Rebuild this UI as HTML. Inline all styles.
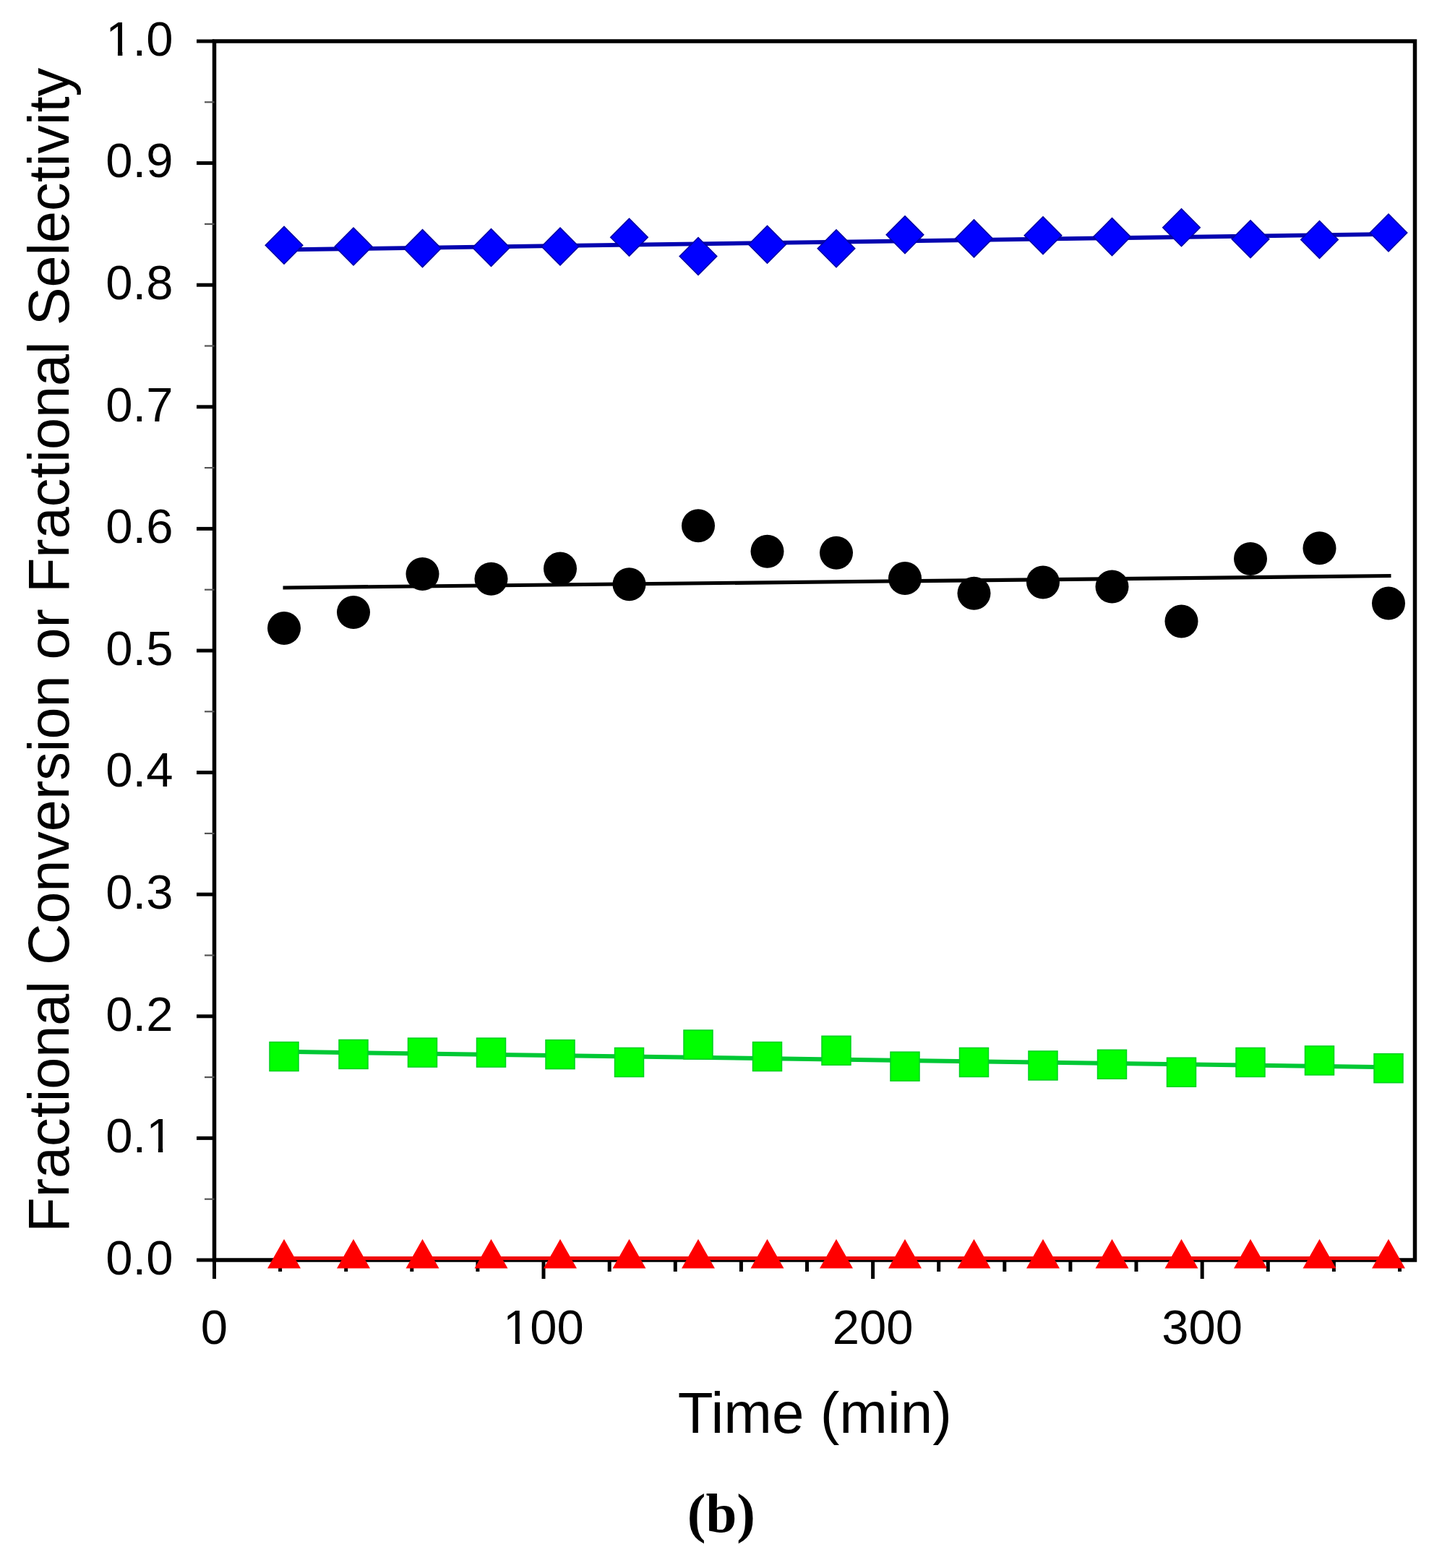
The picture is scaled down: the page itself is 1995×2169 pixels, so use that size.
<!DOCTYPE html><html><head><meta charset="utf-8"><title>Fractional Conversion vs Time</title>
<style>html,body{margin:0;padding:0;background:#fff;}svg{display:block;}text{font-family:"Liberation Sans",Arial,sans-serif;fill:#000;}</style></head><body>
<svg width="1995" height="2169" viewBox="0 0 1995 2169">
<rect width="1995" height="2169" fill="#fff"/>
<rect x="296.5" y="57.0" width="1661.0" height="1686.0" fill="none" stroke="#000" stroke-width="5.5"/>
<line x1="272" y1="1743.0" x2="296.5" y2="1743.0" stroke="#000" stroke-width="5"/>
<line x1="283" y1="1658.7" x2="296.5" y2="1658.7" stroke="#555" stroke-width="2.2"/>
<text x="239.5" y="1762.8" font-size="67" text-anchor="end">0.0</text>
<line x1="272" y1="1574.4" x2="296.5" y2="1574.4" stroke="#000" stroke-width="5"/>
<line x1="283" y1="1490.1" x2="296.5" y2="1490.1" stroke="#555" stroke-width="2.2"/>
<text x="239.5" y="1594.2" font-size="67" text-anchor="end">0.1</text>
<line x1="272" y1="1405.8" x2="296.5" y2="1405.8" stroke="#000" stroke-width="5"/>
<line x1="283" y1="1321.5" x2="296.5" y2="1321.5" stroke="#555" stroke-width="2.2"/>
<text x="239.5" y="1425.6" font-size="67" text-anchor="end">0.2</text>
<line x1="272" y1="1237.2" x2="296.5" y2="1237.2" stroke="#000" stroke-width="5"/>
<line x1="283" y1="1152.9" x2="296.5" y2="1152.9" stroke="#555" stroke-width="2.2"/>
<text x="239.5" y="1257.0" font-size="67" text-anchor="end">0.3</text>
<line x1="272" y1="1068.6" x2="296.5" y2="1068.6" stroke="#000" stroke-width="5"/>
<line x1="283" y1="984.3" x2="296.5" y2="984.3" stroke="#555" stroke-width="2.2"/>
<text x="239.5" y="1088.4" font-size="67" text-anchor="end">0.4</text>
<line x1="272" y1="900.0" x2="296.5" y2="900.0" stroke="#000" stroke-width="5"/>
<line x1="283" y1="815.7" x2="296.5" y2="815.7" stroke="#555" stroke-width="2.2"/>
<text x="239.5" y="919.8" font-size="67" text-anchor="end">0.5</text>
<line x1="272" y1="731.4" x2="296.5" y2="731.4" stroke="#000" stroke-width="5"/>
<line x1="283" y1="647.1" x2="296.5" y2="647.1" stroke="#555" stroke-width="2.2"/>
<text x="239.5" y="751.2" font-size="67" text-anchor="end">0.6</text>
<line x1="272" y1="562.8" x2="296.5" y2="562.8" stroke="#000" stroke-width="5"/>
<line x1="283" y1="478.5" x2="296.5" y2="478.5" stroke="#555" stroke-width="2.2"/>
<text x="239.5" y="582.6" font-size="67" text-anchor="end">0.7</text>
<line x1="272" y1="394.2" x2="296.5" y2="394.2" stroke="#000" stroke-width="5"/>
<line x1="283" y1="309.9" x2="296.5" y2="309.9" stroke="#555" stroke-width="2.2"/>
<text x="239.5" y="414.0" font-size="67" text-anchor="end">0.8</text>
<line x1="272" y1="225.6" x2="296.5" y2="225.6" stroke="#000" stroke-width="5"/>
<line x1="283" y1="141.3" x2="296.5" y2="141.3" stroke="#555" stroke-width="2.2"/>
<text x="239.5" y="245.4" font-size="67" text-anchor="end">0.9</text>
<line x1="272" y1="57.0" x2="296.5" y2="57.0" stroke="#000" stroke-width="5"/>
<text x="239.5" y="76.8" font-size="67" text-anchor="end">1.0</text>
<line x1="296.5" y1="1743.0" x2="296.5" y2="1769" stroke="#000" stroke-width="5"/>
<text x="296.5" y="1859" font-size="67" text-anchor="middle">0</text>
<line x1="387.6" y1="1743.0" x2="387.6" y2="1759" stroke="#000" stroke-width="5"/>
<line x1="478.7" y1="1743.0" x2="478.7" y2="1759" stroke="#000" stroke-width="5"/>
<line x1="569.8" y1="1743.0" x2="569.8" y2="1759" stroke="#000" stroke-width="5"/>
<line x1="660.9" y1="1743.0" x2="660.9" y2="1759" stroke="#000" stroke-width="5"/>
<line x1="752.0" y1="1743.0" x2="752.0" y2="1769" stroke="#000" stroke-width="5"/>
<text x="752.0" y="1859" font-size="67" text-anchor="middle">100</text>
<line x1="843.2" y1="1743.0" x2="843.2" y2="1759" stroke="#000" stroke-width="5"/>
<line x1="934.3" y1="1743.0" x2="934.3" y2="1759" stroke="#000" stroke-width="5"/>
<line x1="1025.4" y1="1743.0" x2="1025.4" y2="1759" stroke="#000" stroke-width="5"/>
<line x1="1116.5" y1="1743.0" x2="1116.5" y2="1759" stroke="#000" stroke-width="5"/>
<line x1="1207.6" y1="1743.0" x2="1207.6" y2="1769" stroke="#000" stroke-width="5"/>
<text x="1207.6" y="1859" font-size="67" text-anchor="middle">200</text>
<line x1="1298.7" y1="1743.0" x2="1298.7" y2="1759" stroke="#000" stroke-width="5"/>
<line x1="1389.8" y1="1743.0" x2="1389.8" y2="1759" stroke="#000" stroke-width="5"/>
<line x1="1480.9" y1="1743.0" x2="1480.9" y2="1759" stroke="#000" stroke-width="5"/>
<line x1="1572.0" y1="1743.0" x2="1572.0" y2="1759" stroke="#000" stroke-width="5"/>
<line x1="1663.2" y1="1743.0" x2="1663.2" y2="1769" stroke="#000" stroke-width="5"/>
<text x="1663.2" y="1859" font-size="67" text-anchor="middle">300</text>
<line x1="1754.3" y1="1743.0" x2="1754.3" y2="1759" stroke="#000" stroke-width="5"/>
<line x1="1845.4" y1="1743.0" x2="1845.4" y2="1759" stroke="#000" stroke-width="5"/>
<line x1="1936.5" y1="1743.0" x2="1936.5" y2="1759" stroke="#000" stroke-width="5"/>
<rect x="150.26" y="71.19" width="12.69" height="6.81" fill="#fff"/>
<rect x="169.38" y="71.19" width="12.17" height="6.81" fill="#fff"/>
<rect x="206.14" y="1588.59" width="12.69" height="6.81" fill="#fff"/>
<rect x="225.26" y="1588.59" width="12.17" height="6.81" fill="#fff"/>
<rect x="700.06" y="1853.39" width="12.69" height="6.81" fill="#fff"/>
<rect x="719.18" y="1853.39" width="12.17" height="6.81" fill="#fff"/>
<text x="1127.3" y="1982.3" font-size="80" text-anchor="middle">Time (min)</text>
<text transform="translate(94.5,899.3) rotate(-90)" font-size="79.2" text-anchor="middle">Fractional Conversion or Fractional Selectivity</text>
<text x="997.8" y="2119" font-size="77" text-anchor="middle" style="font-family:'Liberation Serif','Times New Roman',serif;font-weight:bold">(b)</text>
<line x1="393" y1="1740.5" x2="1921" y2="1740.5" stroke="#f00a0a" stroke-width="5"/>
<polygon points="393.0,1714 370.0,1754.5 416.0,1754.5" fill="#ff0000"/>
<polygon points="489.0,1714 466.0,1754.5 512.0,1754.5" fill="#ff0000"/>
<polygon points="584.5,1714 561.5,1754.5 607.5,1754.5" fill="#ff0000"/>
<polygon points="679.5,1714 656.5,1754.5 702.5,1754.5" fill="#ff0000"/>
<polygon points="775.0,1714 752.0,1754.5 798.0,1754.5" fill="#ff0000"/>
<polygon points="870.5,1714 847.5,1754.5 893.5,1754.5" fill="#ff0000"/>
<polygon points="966.0,1714 943.0,1754.5 989.0,1754.5" fill="#ff0000"/>
<polygon points="1061.5,1714 1038.5,1754.5 1084.5,1754.5" fill="#ff0000"/>
<polygon points="1157.0,1714 1134.0,1754.5 1180.0,1754.5" fill="#ff0000"/>
<polygon points="1252.0,1714 1229.0,1754.5 1275.0,1754.5" fill="#ff0000"/>
<polygon points="1347.5,1714 1324.5,1754.5 1370.5,1754.5" fill="#ff0000"/>
<polygon points="1443.0,1714 1420.0,1754.5 1466.0,1754.5" fill="#ff0000"/>
<polygon points="1538.5,1714 1515.5,1754.5 1561.5,1754.5" fill="#ff0000"/>
<polygon points="1634.5,1714 1611.5,1754.5 1657.5,1754.5" fill="#ff0000"/>
<polygon points="1730.0,1714 1707.0,1754.5 1753.0,1754.5" fill="#ff0000"/>
<polygon points="1825.5,1714 1802.5,1754.5 1848.5,1754.5" fill="#ff0000"/>
<polygon points="1921.0,1714 1898.0,1754.5 1944.0,1754.5" fill="#ff0000"/>
<line x1="393" y1="1454.8" x2="1921" y2="1476.3" stroke="#00c834" stroke-width="6"/>
<rect x="373.0" y="1441.5" width="40" height="40" fill="#00ff00" stroke="#00d020" stroke-width="1.5"/>
<rect x="469.0" y="1438.4" width="40" height="40" fill="#00ff00" stroke="#00d020" stroke-width="1.5"/>
<rect x="564.5" y="1436.0" width="40" height="40" fill="#00ff00" stroke="#00d020" stroke-width="1.5"/>
<rect x="659.5" y="1436.0" width="40" height="40" fill="#00ff00" stroke="#00d020" stroke-width="1.5"/>
<rect x="755.0" y="1438.6" width="40" height="40" fill="#00ff00" stroke="#00d020" stroke-width="1.5"/>
<rect x="850.5" y="1449.5" width="40" height="40" fill="#00ff00" stroke="#00d020" stroke-width="1.5"/>
<rect x="946.0" y="1425.0" width="40" height="40" fill="#00ff00" stroke="#00d020" stroke-width="1.5"/>
<rect x="1041.5" y="1441.5" width="40" height="40" fill="#00ff00" stroke="#00d020" stroke-width="1.5"/>
<rect x="1137.0" y="1433.2" width="40" height="40" fill="#00ff00" stroke="#00d020" stroke-width="1.5"/>
<rect x="1232.0" y="1455.2" width="40" height="40" fill="#00ff00" stroke="#00d020" stroke-width="1.5"/>
<rect x="1327.5" y="1449.5" width="40" height="40" fill="#00ff00" stroke="#00d020" stroke-width="1.5"/>
<rect x="1423.0" y="1454.0" width="40" height="40" fill="#00ff00" stroke="#00d020" stroke-width="1.5"/>
<rect x="1518.5" y="1452.3" width="40" height="40" fill="#00ff00" stroke="#00d020" stroke-width="1.5"/>
<rect x="1614.5" y="1463.2" width="40" height="40" fill="#00ff00" stroke="#00d020" stroke-width="1.5"/>
<rect x="1710.0" y="1449.5" width="40" height="40" fill="#00ff00" stroke="#00d020" stroke-width="1.5"/>
<rect x="1805.5" y="1447.0" width="40" height="40" fill="#00ff00" stroke="#00d020" stroke-width="1.5"/>
<rect x="1901.0" y="1457.7" width="40" height="40" fill="#00ff00" stroke="#00d020" stroke-width="1.5"/>
<line x1="391.5" y1="813" x2="1924.5" y2="796.5" stroke="#000" stroke-width="5.2"/>
<circle cx="393.0" cy="868.9" r="23" fill="#000"/>
<circle cx="489.0" cy="847.0" r="23" fill="#000"/>
<circle cx="584.5" cy="794.1" r="23" fill="#000"/>
<circle cx="679.5" cy="800.8" r="23" fill="#000"/>
<circle cx="775.0" cy="786.6" r="23" fill="#000"/>
<circle cx="870.5" cy="808.2" r="23" fill="#000"/>
<circle cx="966.0" cy="727.3" r="23" fill="#000"/>
<circle cx="1061.5" cy="762.8" r="23" fill="#000"/>
<circle cx="1157.0" cy="764.8" r="23" fill="#000"/>
<circle cx="1252.0" cy="800.1" r="23" fill="#000"/>
<circle cx="1347.5" cy="820.7" r="23" fill="#000"/>
<circle cx="1443.0" cy="805.5" r="23" fill="#000"/>
<circle cx="1538.5" cy="811.5" r="23" fill="#000"/>
<circle cx="1634.5" cy="859.4" r="23" fill="#000"/>
<circle cx="1730.0" cy="772.9" r="23" fill="#000"/>
<circle cx="1825.5" cy="758.2" r="23" fill="#000"/>
<circle cx="1921.0" cy="834.6" r="23" fill="#000"/>
<line x1="393" y1="345.4" x2="1921" y2="323.9" stroke="#0202b0" stroke-width="5.8"/>
<polygon points="393.0,313.3 418.8,339.3 393.0,365.3 367.2,339.3" fill="#0000ff" stroke="#0000a0" stroke-width="1.5"/>
<polygon points="489.0,315.0 514.8,341.0 489.0,367.0 463.2,341.0" fill="#0000ff" stroke="#0000a0" stroke-width="1.5"/>
<polygon points="584.5,317.6 610.3,343.6 584.5,369.6 558.7,343.6" fill="#0000ff" stroke="#0000a0" stroke-width="1.5"/>
<polygon points="679.5,316.5 705.3,342.5 679.5,368.5 653.7,342.5" fill="#0000ff" stroke="#0000a0" stroke-width="1.5"/>
<polygon points="775.0,315.0 800.8,341.0 775.0,367.0 749.2,341.0" fill="#0000ff" stroke="#0000a0" stroke-width="1.5"/>
<polygon points="870.5,302.2 896.3,328.2 870.5,354.2 844.7,328.2" fill="#0000ff" stroke="#0000a0" stroke-width="1.5"/>
<polygon points="966.0,328.5 991.8,354.5 966.0,380.5 940.2,354.5" fill="#0000ff" stroke="#0000a0" stroke-width="1.5"/>
<polygon points="1061.5,312.3 1087.3,338.3 1061.5,364.3 1035.7,338.3" fill="#0000ff" stroke="#0000a0" stroke-width="1.5"/>
<polygon points="1157.0,317.8 1182.8,343.8 1157.0,369.8 1131.2,343.8" fill="#0000ff" stroke="#0000a0" stroke-width="1.5"/>
<polygon points="1252.0,298.7 1277.8,324.7 1252.0,350.7 1226.2,324.7" fill="#0000ff" stroke="#0000a0" stroke-width="1.5"/>
<polygon points="1347.5,303.9 1373.3,329.9 1347.5,355.9 1321.7,329.9" fill="#0000ff" stroke="#0000a0" stroke-width="1.5"/>
<polygon points="1443.0,299.7 1468.8,325.7 1443.0,351.7 1417.2,325.7" fill="#0000ff" stroke="#0000a0" stroke-width="1.5"/>
<polygon points="1538.5,301.6 1564.3,327.6 1538.5,353.6 1512.7,327.6" fill="#0000ff" stroke="#0000a0" stroke-width="1.5"/>
<polygon points="1634.5,288.8 1660.3,314.8 1634.5,340.8 1608.7,314.8" fill="#0000ff" stroke="#0000a0" stroke-width="1.5"/>
<polygon points="1730.0,304.7 1755.8,330.7 1730.0,356.7 1704.2,330.7" fill="#0000ff" stroke="#0000a0" stroke-width="1.5"/>
<polygon points="1825.5,305.5 1851.3,331.5 1825.5,357.5 1799.7,331.5" fill="#0000ff" stroke="#0000a0" stroke-width="1.5"/>
<polygon points="1921.0,296.0 1946.8,322.0 1921.0,348.0 1895.2,322.0" fill="#0000ff" stroke="#0000a0" stroke-width="1.5"/>
</svg></body></html>
